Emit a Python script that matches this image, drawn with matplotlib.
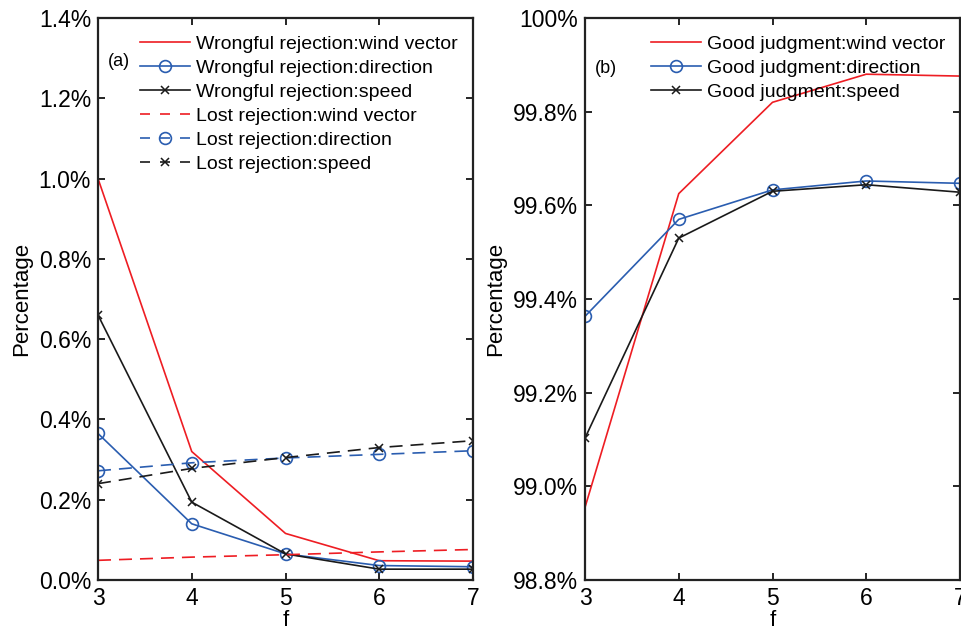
import matplotlib.pyplot as plt
import numpy as np
from matplotlib.legend_handler import HandlerLine2D

plt.rcParams['font.family'] = ['Liberation Sans', 'DejaVu Sans']

# ─── Data ───
f_vals = [3, 4, 5, 6, 7]

wrong_wind = [1.00, 0.320, 0.116, 0.048, 0.047]
wrong_dir = [0.365, 0.140, 0.065, 0.036, 0.033]
wrong_speed = [0.660, 0.194, 0.065, 0.027, 0.027]
lost_wind = [0.049, 0.057, 0.063, 0.070, 0.076]
lost_dir = [0.272, 0.292, 0.304, 0.313, 0.322]
lost_speed = [0.240, 0.278, 0.305, 0.330, 0.347]

good_wind = [98.955, 99.625, 99.820, 99.880, 99.876]
good_dir = [99.363, 99.570, 99.633, 99.652, 99.647]
good_speed = [99.103, 99.530, 99.630, 99.644, 99.628]

yticks_a = [0.0, 0.2, 0.4, 0.6, 0.8, 1.0, 1.2, 1.4]
ylabels_a = ['0.0%', '0.2%', '0.4%', '0.6%', '0.8%', '1.0%', '1.2%', '1.4%']
yticks_b = [98.8, 99.0, 99.2, 99.4, 99.6, 99.8, 100.0]
ylabels_b = ['98.8%', '99.0%', '99.2%', '99.4%', '99.6%', '99.8%', '100%']

C_RED = '#ee1d23'
C_BLUE = '#2a5db0'
C_BLACK = '#1a1a1a'

fig = plt.figure(figsize=(9.61, 6.31), dpi=100)
ax1 = fig.add_axes([98 / 961, 51 / 631, 375 / 961, 562 / 631])
ax2 = fig.add_axes([585 / 961, 51 / 631, 375 / 961, 562 / 631])

DASH = (7.8, 4.8)


# legend handles: dashed lines drawn as "- - -" with the marker on the middle dash
def _leg_update(handle, orig):
    handle.update_from(orig)
    if orig.get_linestyle() == '--':
        handle.set_dashes((6, 6))


LEG = dict(loc='upper left', frameon=False, fontsize=14, handlelength=2.55,
           handletextpad=0.3, labelspacing=0.33, borderaxespad=0, borderpad=0,
           handler_map={plt.Line2D: HandlerLine2D(update_func=_leg_update)})

# ─── Panel (a) ───
ax1.plot(f_vals, wrong_wind, color=C_RED, lw=1.2, label='Wrongful rejection:wind vector')
ax1.plot(f_vals, wrong_dir, color=C_BLUE, lw=1.2, marker='o', ms=8.5, mfc='none',
         mew=1.2, label='Wrongful rejection:direction')
ax1.plot(f_vals, wrong_speed, color=C_BLACK, lw=1.2, marker='x', ms=6, mew=1.1,
         label='Wrongful rejection:speed')
ax1.plot(f_vals, lost_wind, color=C_RED, lw=1.2, ls='--', dashes=DASH,
         label='Lost rejection:wind vector')
ax1.plot(f_vals, lost_dir, color=C_BLUE, lw=1.2, ls='--', dashes=DASH, marker='o', ms=8.5,
         mfc='none', mew=1.2, label='Lost rejection:direction')
ax1.plot(f_vals, lost_speed, color=C_BLACK, lw=1.2, ls='--', dashes=DASH, marker='x', ms=6,
         mew=1.1, label='Lost rejection:speed')

ax1.set_xlim(3, 7)
ax1.set_ylim(0, 1.4)
ax1.set_yticks(yticks_a)
ax1.set_yticklabels(ylabels_a)
ax1.text(0.026, 0.923, '(a)', transform=ax1.transAxes, fontsize=13, ha='left', va='center')
ax1.legend(bbox_to_anchor=(0.113, 0.969), **LEG)

# ─── Panel (b) ───
ax2.plot(f_vals, good_wind, color=C_RED, lw=1.2, label='Good judgment:wind vector')
ax2.plot(f_vals, good_dir, color=C_BLUE, lw=1.2, marker='o', ms=8.5, mfc='none', mew=1.2,
         label='Good judgment:direction')
ax2.plot(f_vals, good_speed, color=C_BLACK, lw=1.2, marker='x', ms=6, mew=1.1,
         label='Good judgment:speed')
ax2.set_xlim(3, 7)
ax2.set_ylim(98.8, 100.0)
ax2.set_yticks(yticks_b)
ax2.set_yticklabels(ylabels_b)
ax2.text(0.026, 0.91, '(b)', transform=ax2.transAxes, fontsize=13, ha='left', va='center')
ax2.legend(bbox_to_anchor=(0.177, 0.969), **LEG)

for ax in (ax1, ax2):
    ax.set_xticks(f_vals)
    ax.set_xlabel('f', fontsize=16, labelpad=0)
    ax.set_ylabel('Percentage', fontsize=16, labelpad=5)
    ax.tick_params(direction='in', top=True, right=True, length=5, width=1.2,
                   labelsize=16.5, pad=5)
    for sp in ax.spines.values():
        sp.set_linewidth(1.6)
        sp.set_color('#222222')
        sp.set_clip_on(False)

fig.savefig('out.png', dpi=100, facecolor='white')
